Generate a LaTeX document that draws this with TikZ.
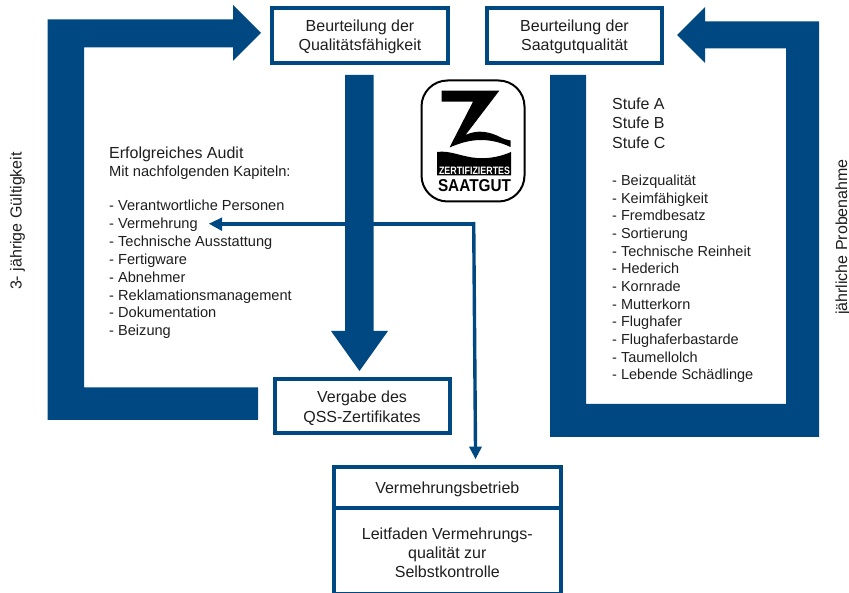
\documentclass[tikz,border=0pt]{standalone}
\usepackage{fontspec}
\setmainfont{Liberation Sans}
\definecolor{qblue}{RGB}{0,72,130}
\definecolor{qtext}{RGB}{30,30,30}
\tikzset{
  qbox/.style={draw=qblue,line width=4pt,fill=white,outer sep=0pt,inner sep=0pt,align=center,text=qtext,font=\fontsize{16}{19.5}\selectfont},
  plain/.style={inner sep=0pt,align=left,anchor=north west,text=qtext},
  band/.style={fill=qblue,draw=none},
}
\begin{document}
\begin{tikzpicture}[x=1pt,y=-1pt]
\useasboundingbox (0,0) rectangle (849,593);
% big arrows
\fill[band] (47.5,19.3) -- (233,19.3) -- (233,5) -- (261,33) -- (233,61) -- (233,47.3) -- (84,47.3) -- (84,387.3) -- (258,387.3) -- (258,420) -- (47.5,420) -- cycle;
\fill[band] (819,21.3) -- (705,21.3) -- (705,7) -- (677,35) -- (705,63) -- (705,48.5) -- (786,48.5) -- (786,404) -- (586,404) -- (586,75) -- (550,75) -- (550,437) -- (819,437) -- cycle;
\fill[band] (345,75) -- (373.5,75) -- (373.5,331) -- (388,331) -- (359.5,371) -- (331,331) -- (345,331) -- cycle;
% boxes
\node[qbox,minimum height=55pt,minimum width=176pt,text depth=0pt] (q) at (360,35.5) {};
\node[inner sep=0pt,align=center,text=qtext,font=\fontsize{16}{19.5}\selectfont] (qt) at (360,37) {Beurteilung der\\Qualitätsfähigkeit};
\node[qbox,minimum height=55pt,minimum width=175pt] (s) at (574.5,35.5) {};
\node[inner sep=0pt,align=center,text=qtext,font=\fontsize{16}{19.5}\selectfont] (st) at (574.5,37) {Beurteilung der\\Saatgutqualität};
\node[qbox,minimum height=54.5pt,minimum width=175pt] (v) at (362,406) {};
\node[inner sep=0pt,align=center,text=qtext,font=\fontsize{16}{20.5}\selectfont] (vt) at (362,408) {Vergabe des\\QSS-Zertifikates};
\node[qbox,minimum height=41pt,minimum width=227.3pt] (b) at (447.3,487.5) {};
\node[inner sep=0pt,text=qtext,font=\fontsize{16}{19}\selectfont] (bt) at (447.3,489.5) {Vermehrungsbetrieb};
\node[qbox,minimum height=86pt,minimum width=227.3pt,anchor=north] (l) at (b.south) {};
\node[inner sep=0pt,align=center,text=qtext,font=\fontsize{16}{19}\selectfont] (lt) at (447.3,553) {Leitfaden Vermehrungs-\\qualität zur\\Selbstkontrolle};
% thin connector
\coordinate (c1) at (473.5,223.7);
\coordinate (c2) at (209,223.7);
\coordinate (c3) at (475.5,459);
\fill[qblue] (222,217.5) -- (c2) -- (222,231) -- cycle;
\draw[qblue,line width=4pt] (c1) -- (220,223.7);
\draw[qblue,line width=3.4pt] (473.7,222) -- (475.5,448);
\fill[qblue] (469,446.7) -- (482,446.7) -- (c3) -- cycle;
% texts
\node[plain,font=\fontsize{16}{19.5}\selectfont] (sa) at (612,97.5) {Stufe A\\Stufe B\\Stufe C};
\node[plain,font=\fontsize{14.5}{17.64}\selectfont] (sl) at (612,175) {- Beizqualität\\- Keimfähigkeit\\- Fremdbesatz\\- Sortierung\\- Technische Reinheit\\- Hederich\\- Kornrade\\- Mutterkorn\\- Flughafer\\- Flughaferbastarde\\- Taumellolch\\- Lebende Schädlinge};
\node[plain,font=\fontsize{16}{18}\selectfont] (ea) at (109,146.5) {Erfolgreiches Audit};
\node[plain,font=\fontsize{14.7}{17.7}\selectfont] (mn) at (109,166) {Mit nachfolgenden Kapiteln:};
\node[plain,font=\fontsize{14.6}{17.86}\selectfont] (kl) at (109,200) {- Verantwortliche Personen\\- Vermehrung\\- Technische Ausstattung\\- Fertigware\\- Abnehmer\\- Reklamationsmanagement\\- Dokumentation\\- Beizung};
\node[inner sep=0pt,rotate=90,text=qtext,font=\fontsize{16}{16}\selectfont] (g1) at (17.5,221) {3- jährige Gültigkeit};
\node[inner sep=0pt,rotate=90,text=qtext,font=\fontsize{16}{16}\selectfont] (g2) at (843,237) {jährliche Probenahme};
% logo
\draw[black,line width=2pt,fill=white,rounded corners=26pt] (421.5,80.5) rectangle (524.5,201.5);
\fill[black] (441.7,90.7) -- (499.3,90.7) -- (465.5,135) .. controls (478,129) and (490,132) .. (500,137) .. controls (504,139) and (507,140) .. (510.5,140.5) -- (510.5,147) .. controls (500,142) and (490,140) .. (481,140) .. controls (470,140) and (460,143) .. (449.5,147.5) -- (473,101.7) -- (441.7,101.7) -- cycle;
\fill[black] (437,152) .. controls (450,150) and (462,157) .. (477,158) .. controls (490,159) and (502,156) .. (511,152) -- (511,175.5) -- (437,175.5) -- cycle;
\node[inner sep=0pt,text=white,font=\bfseries\fontsize{11}{11}\selectfont] (z1) at (474.5,171.3) {\resizebox{71pt}{7.5pt}{ZERTIFIZIERTES}};
\node[inner sep=0pt,text=black,font=\bfseries\fontsize{16}{16}\selectfont] (z2) at (474.5,185.5) {\resizebox{73pt}{12pt}{SAATGUT}};
\end{tikzpicture}
\end{document}
